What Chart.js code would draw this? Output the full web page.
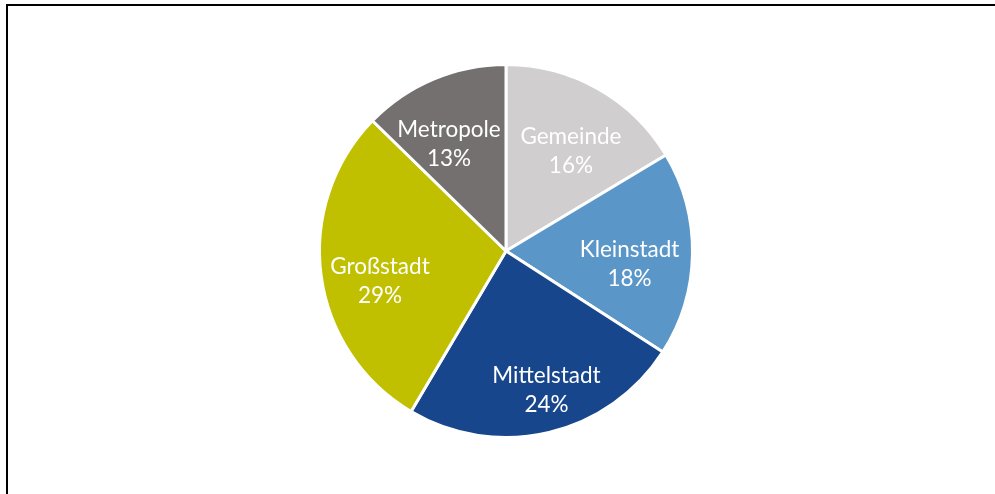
<!DOCTYPE html>
<html>
<head>
<meta charset="utf-8">
<script src="https://cdn.jsdelivr.net/npm/chart.js@4.4.1/dist/chart.umd.min.js"></script>
<style>
  html, body { margin:0; padding:0; background:#fff; }
  #wrap { position:relative; width:995px; height:494px; overflow:hidden; }
  #frame { position:absolute; left:6px; top:4px; width:1000px; height:500px;
           border-top:2px solid #000; border-left:2px solid #000; box-sizing:border-box; }
  #box { position:absolute; left:0; top:0; width:995px; height:494px; }
</style>
</head>
<body>
<div id="wrap">
  <div id="frame"></div>
  <div id="box"><canvas id="chart"></canvas></div>
</div>
<script>
// data (slice sizes, labels show them rounded)
const categories = ["Gemeinde", "Kleinstadt", "Mittelstadt", "Großstadt", "Metropole"];
const shares = [16.4, 17.7, 24.4, 28.8, 12.7];
const sliceColors = ["#D0CECE", "#5A96C8", "#17468C", "#C0C000", "#747070"];

// label spot for each slice, in parts of the radius from the centre (Excel "best fit" look)
const labelSpot = [[0.351, -0.541], [0.668, 0.065], [0.219, 0.746], [-0.681, 0.157], [-0.308, -0.581]];

const pieLabels = {
  id: "pieLabels",
  afterDatasetsDraw(chart) {
    let ctx = chart.ctx;
    let meta = chart.getDatasetMeta(0);
    ctx.save();
    ctx.font = "22.5px Lato";
    ctx.fillStyle = "#ffffff";
    ctx.textAlign = "center";
    ctx.textBaseline = "alphabetic";
    meta.data.forEach((arc, i) => {
      let p = arc.getProps(["x", "y", "outerRadius"], true);
      let r = p.outerRadius - 1.5;
      let cx = p.x + labelSpot[i][0] * r;
      let cy = p.y + labelSpot[i][1] * r;
      ctx.fillText(categories[i], cx, cy - 6.5);
      ctx.fillText(Math.round(shares[i]) + "%", cx, cy + 22.5);
    });
    ctx.restore();
  }
};

const chartX = document.getElementById("chart").getContext("2d");
new Chart(chartX, {
  type: "pie",
  data: {
    labels: categories,
    datasets: [{
      data: shares,
      backgroundColor: sliceColors,
      borderColor: "#ffffff",
      borderWidth: 3
    }]
  },
  options: {
    responsive: true,
    maintainAspectRatio: false,
    animation: false,
    layout: { padding: { top: 63, bottom: 55, left: 17, right: 0 } },
    plugins: {
      legend: { display: false },
      tooltip: { enabled: false }
    }
  },
  plugins: [pieLabels]
});
</script>
</body>
</html>
